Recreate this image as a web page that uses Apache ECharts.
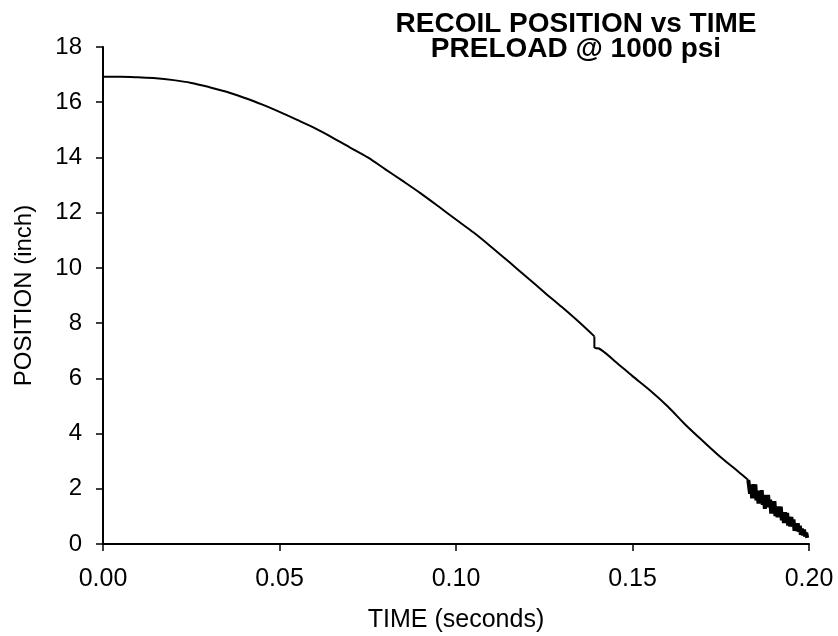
<!DOCTYPE html>
<html>
<head>
<meta charset="utf-8">
<script src="https://cdn.jsdelivr.net/npm/echarts@6/dist/echarts.min.js"></script>
<style>
  html, body { margin: 0; padding: 0; background: #fff; }
  #chart { width: 838px; height: 636px; }
</style>
</head>
<body>
<div id="chart"></div>
<script>
// recoil position: [time (s), position (inch)]
const beforeStep = [
  [0, 16.92], [0.005, 16.92], [0.010, 16.90], [0.015, 16.87], [0.020, 16.80],
  [0.025, 16.70], [0.030, 16.55], [0.035, 16.38], [0.040, 16.16], [0.045, 15.92],
  [0.050, 15.65], [0.055, 15.36], [0.060, 15.06], [0.065, 14.72], [0.070, 14.36],
  [0.075, 14.00], [0.080, 13.57], [0.085, 13.14], [0.090, 12.70], [0.095, 12.23],
  [0.100, 11.75], [0.105, 11.28], [0.110, 10.76], [0.115, 10.22], [0.120, 9.67],
  [0.125, 9.12], [0.130, 8.58], [0.135, 8.02], [0.1392, 7.52]
]

const afterStep = [
  [0.1392, 7.10], [0.1405, 7.08], [0.145, 6.62], [0.150, 6.08],
  [0.155, 5.56], [0.160, 4.98], [0.165, 4.32], [0.170, 3.72], [0.175, 3.14],
  [0.180, 2.62], [0.1828, 2.32]
]

// vertical step at ~0.139 s
const stepPart = [[0.1392, 7.52], [0.1392, 7.10]]

// noisy tail near the end of stroke
const noisyPart = [
  [0.1828, 2.32],
  [0.1830, 2.35], [0.1833, 1.82], [0.1836, 2.14], [0.1839, 1.65], [0.1842, 2.17],
  [0.1845, 1.79], [0.1848, 2.16], [0.1851, 1.58], [0.1854, 1.90], [0.1857, 1.46],
  [0.1860, 1.93], [0.1863, 1.55], [0.1866, 1.95], [0.1869, 1.42], [0.1872, 1.73],
  [0.1875, 1.27], [0.1878, 1.78], [0.1881, 1.33], [0.1884, 1.78], [0.1887, 1.35],
  [0.1890, 1.61], [0.1893, 1.10], [0.1896, 1.50], [0.1899, 1.12], [0.1902, 1.55],
  [0.1905, 1.01], [0.1908, 1.32], [0.1911, 0.97], [0.1914, 1.36], [0.1917, 0.98],
  [0.1920, 1.35], [0.1923, 0.86], [0.1926, 1.15], [0.1929, 0.76], [0.1932, 1.15],
  [0.1935, 0.84], [0.1938, 1.13], [0.1941, 0.67], [0.1944, 0.99], [0.1947, 0.63],
  [0.1950, 0.98], [0.1953, 0.63], [0.1956, 0.89], [0.1959, 0.48], [0.1962, 0.75],
  [0.1965, 0.47], [0.1968, 0.75], [0.1971, 0.44], [0.1974, 0.66], [0.1977, 0.33],
  [0.1980, 0.56], [0.1983, 0.31], [0.1986, 0.52], [0.1989, 0.27], [0.1992, 0.41],
  [0.1995, 0.22]
]

const font = 'Liberation Sans, Arial, sans-serif'
const chart = echarts.init(document.getElementById('chart'))

const lineSeries = (data, width, smooth) => ({
  type: 'line', data, symbol: 'none', smooth,
  lineStyle: { color: '#000', width }
})

chart.setOption({
  animation: false,
  title: {
    text: 'RECOIL POSITION vs TIME\nPRELOAD @ 1000 psi',
    left: 571,
    top: 7,
    textAlign: 'center',
    textStyle: { fontFamily: font, fontSize: 28, fontWeight: 'bold', color: '#000', lineHeight: 25, align: 'center' }
  },
  grid: { left: 103, right: 29, top: 47, bottom: 92, outerBoundsMode: 'none' },
  xAxis: {
    type: 'value', min: 0, max: 0.2, interval: 0.05,
    name: 'TIME (seconds)', nameLocation: 'middle', nameGap: 64,
    nameTextStyle: { fontFamily: font, fontSize: 25, color: '#000' },
    axisLine: { lineStyle: { color: '#000', width: 2 } },
    axisTick: { length: 7, lineStyle: { color: '#000', width: 1.5 } },
    axisLabel: { fontFamily: font, fontSize: 25, color: '#000', margin: 23, formatter: v => v.toFixed(2) },
    splitLine: { show: false }
  },
  yAxis: {
    type: 'value', min: 0, max: 18, interval: 2,
    name: 'POSITION (inch)', nameLocation: 'middle', nameGap: 67,
    nameTextStyle: { fontFamily: font, fontSize: 24, color: '#000' },
    axisLine: { show: true, lineStyle: { color: '#000', width: 2 } },
    axisTick: { show: true, length: 7, lineStyle: { color: '#000', width: 1.5 } },
    axisLabel: { fontFamily: font, fontSize: 24, color: '#000', margin: 21 },
    splitLine: { show: false }
  },
  series: [
    lineSeries(beforeStep, 2, 0.3),
    lineSeries(stepPart, 2, false),
    lineSeries(afterStep, 2, 0.3),
    lineSeries(noisyPart, 4, false)
  ]
})
</script>
</body>
</html>
